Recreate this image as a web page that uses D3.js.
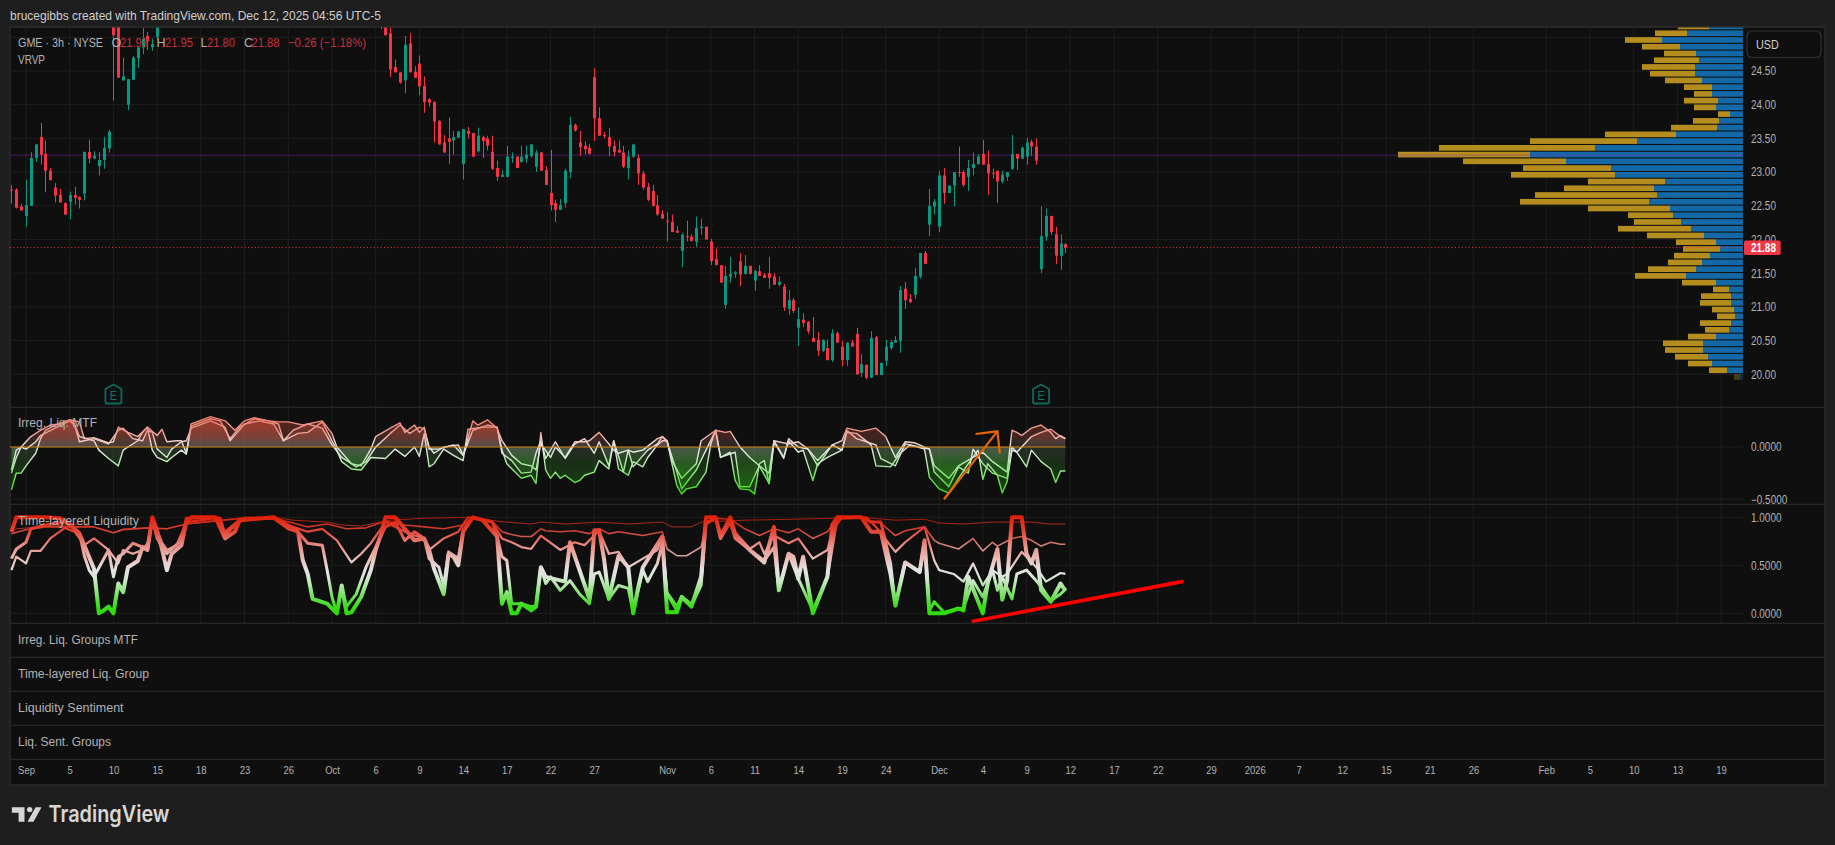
<!DOCTYPE html>
<html><head><meta charset="utf-8">
<style>html,body{margin:0;padding:0;background:#1e1e1e;overflow:hidden}svg{display:block}
text{font-family:"Liberation Sans",sans-serif}</style>
<script src="https://cdn.jsdelivr.net/npm/d3@7"></script></head><body>
<script>
// ---------- candles (bar index, 0 = Sep 2) ----------
const candleBars = d3.range(-3,28).concat(d3.range(73,215));
const candleOpen = [22.74,22.74,22.49,22.35,22.50,23.21,23.52,23.27,23.02,22.77,22.66,22.54,22.56,22.66,22.63,22.68,23.30,23.20,23.09,23.18,23.35,25.6,25.5,24.36,24.00,24.37,24.69,24.85,25.02,24.85,25.0,
25.3,25.3,25.06,24.56,24.48,24.36,24.91,24.49,24.61,24.28,24.08,24.04,23.76,23.44,23.50,23.47,23.51,23.12,23.61,23.58,23.31,23.52,23.50,23.30,23.06,22.93,22.93,23.21,23.23,23.15,23.20,
23.24,23.08,23.29,23.03,22.69,22.54,22.44,22.54,23.00,23.70,23.44,23.39,23.36,24.41,23.80,23.55,23.52,23.39,23.33,23.29,23.06,23.23,23.21,22.98,22.78,22.72,22.51,22.38,22.28,22.26,22.13,
21.83,22.05,22.04,21.97,22.17,22.19,21.97,21.71,21.62,21.03,21.45,21.49,21.68,21.49,21.61,21.39,21.53,21.48,21.50,21.45,21.33,21.30,20.97,21.10,20.69,20.81,20.78,20.54,20.51,20.35,20.39,
20.21,20.61,20.41,20.21,20.47,20.60,20.02,20.14,19.95,20.55,19.99,20.20,20.39,20.47,20.50,21.27,21.12,21.18,21.45,21.80,22.22,22.49,22.19,22.95,22.69,22.80,23.00,23.00,22.93,23.06,23.12,
23.27,23.12,22.99,23.02,22.86,22.93,23.05,23.27,23.20,23.23,23.45,23.38,21.56,22.04,22.35,22.08,21.76,21.93];
const candleHigh = [22.81,22.76,22.53,22.89,23.30,23.42,23.73,23.47,23.06,22.84,22.75,22.55,22.71,22.78,22.64,23.30,23.48,23.31,23.30,23.52,23.63,25.9,25.7,24.70,24.38,24.72,24.87,25.14,25.08,24.98,25.3,
25.4,25.4,25.2,24.67,24.48,25.02,25.06,24.57,24.73,24.42,24.10,24.05,23.77,23.55,23.81,23.61,23.61,23.64,23.67,23.58,23.66,23.54,23.54,23.54,23.17,23.03,23.39,23.29,23.23,23.39,23.39,
23.41,23.33,23.30,23.09,23.33,22.59,22.60,23.05,23.82,23.72,23.61,23.46,23.42,24.54,23.96,23.60,23.65,23.47,23.47,23.39,23.32,23.42,23.26,23.02,22.84,22.81,22.66,22.44,22.41,22.37,22.20,
22.10,22.28,22.08,22.34,22.31,22.19,22.01,21.86,21.62,21.61,21.74,21.53,21.80,21.77,21.61,21.55,21.62,21.50,21.74,21.50,21.45,21.34,21.25,21.13,20.99,20.91,20.79,20.85,20.63,20.52,20.52,
20.67,20.64,20.50,20.47,20.51,20.69,20.30,20.15,20.64,20.57,20.17,20.51,20.51,20.57,21.31,21.37,21.19,21.58,21.80,21.83,22.75,22.60,23.02,23.06,22.80,23.00,23.38,23.03,23.18,23.29,23.27,
23.48,23.32,23.05,23.02,23.02,23.00,23.55,23.27,23.38,23.51,23.48,23.50,22.49,22.46,22.35,22.19,22.08,21.95];
const candleLow = [22.53,22.46,22.43,22.19,22.50,23.15,23.11,22.70,22.88,22.55,22.55,22.36,22.30,22.52,22.46,22.58,23.13,23.20,22.95,23.05,23.29,24.06,24.40,24.36,23.92,24.37,24.54,24.75,24.81,24.80,24.95,
25.12,25.03,24.41,24.48,24.31,24.17,24.48,24.40,24.14,23.88,23.97,23.44,23.41,23.29,23.12,23.26,23.51,22.89,23.50,23.22,23.29,23.21,23.32,23.03,22.87,22.93,22.92,23.14,23.06,23.14,23.14,
23.21,23.00,23.02,22.81,22.43,22.26,22.44,22.47,22.91,23.60,23.24,23.26,23.27,23.46,23.54,23.50,23.24,23.23,23.29,23.06,22.89,23.21,22.81,22.74,22.57,22.49,22.35,22.31,21.97,22.11,22.10,
21.59,21.97,21.97,21.89,22.07,22.00,21.62,21.62,21.36,20.97,21.36,21.43,21.31,21.48,21.48,21.24,21.46,21.43,21.27,21.33,21.31,20.94,20.88,20.91,20.42,20.70,20.60,20.48,20.27,20.33,20.21,
20.18,20.47,20.12,20.12,20.41,19.99,19.96,19.93,19.95,19.99,19.99,20.12,20.36,20.47,20.32,20.97,21.06,21.12,21.42,21.64,22.05,22.37,22.11,22.53,22.69,22.49,22.93,22.78,22.72,22.95,23.11,
23.11,22.66,22.90,22.54,22.83,22.87,23.03,23.03,23.20,23.11,23.24,23.11,21.50,21.98,22.07,21.64,21.55,21.80];
const candleClose = [22.73,22.47,22.43,22.51,23.21,23.41,23.26,23.02,22.88,22.65,22.55,22.37,22.66,22.62,22.59,23.30,23.20,23.24,23.18,23.36,23.60,25.03,24.40,24.42,24.38,24.70,24.85,24.98,24.94,24.90,25.15,
25.2,25.03,24.52,24.48,24.33,24.89,24.48,24.40,24.27,24.04,24.03,23.75,23.41,23.29,23.45,23.52,23.60,23.64,23.57,23.23,23.54,23.46,23.39,23.05,22.93,22.96,23.23,23.23,23.06,23.23,23.26,
23.41,23.29,23.02,22.81,22.51,22.44,22.51,23.02,23.70,23.62,23.37,23.34,23.27,23.80,23.54,23.54,23.38,23.30,23.29,23.08,23.23,23.41,22.98,22.77,22.59,22.50,22.37,22.31,22.27,22.11,22.10,
22.07,22.04,21.98,22.17,22.19,22.00,21.68,21.62,21.36,21.46,21.49,21.51,21.48,21.61,21.49,21.53,21.46,21.43,21.43,21.33,21.37,20.99,21.10,20.94,20.82,20.76,20.64,20.48,20.35,20.51,20.21,
20.61,20.47,20.21,20.47,20.41,20.00,20.15,19.95,20.54,19.99,20.17,20.41,20.48,20.51,21.25,21.10,21.07,21.46,21.80,21.64,22.50,22.56,22.95,22.69,22.80,23.00,22.99,22.81,23.06,23.12,23.23,
23.11,22.98,22.98,22.86,22.96,23.00,23.27,23.20,23.36,23.44,23.38,23.17,22.05,22.35,22.11,21.76,21.94,21.88];

// ---------- visible range volume profile ----------
const vpPrice = [19.96,20.06,20.16,20.26,20.36,20.46,20.56,20.66,20.76,20.86,20.96,21.06,21.16,21.26,21.36,21.46,21.56,21.66,21.76,21.86,21.96,22.06,22.16,22.26,22.36,22.46,22.56,22.66,22.76,22.86,22.96,23.06,23.16,23.26,23.36,23.46,23.56,23.66,23.76,23.86,23.96,24.06,24.16,24.26,24.36,24.46,24.56,24.66,24.76,24.86,24.96,25.06,25.16];
const vpUp = [3,16,31,35,40,40,27,14,12,8,9,12,12,14,27,57,47,41,33,23,27,39,52,62,70,73,94,86,89,78,128,132,177,213,148,106,67,26,24,13,27,25,31,31,41,48,48,44,47,63,81,56,34];
const vpDown = [6,18,24,33,38,40,28,24,31,18,22,31,30,16,34,51,48,34,36,37,40,57,73,47,45,82,129,122,90,77,104,88,103,132,156,107,71,46,26,12,22,34,18,28,37,45,53,45,32,38,37,32,31];

// ---------- Irreg. Liq. MTF : [bar, value] ----------
const irregA = [[-3,-.41],[-2,-.25],[-1,-.25],[0,-.18],[2,-.06],[3,.08],[4,.16],[6,.21],[9,.26],[10,.22],[11,.10],[14,.06],[15,-.03],[17,-.11],[19,-.18],[20,-.03],[21,0],[23,.06],[24,.14],[25,.19],[26,-.03],[27,-.10],[29,-.14],[30,-.10],[32,-.03],[33,-.07],[34,.20],[38,.27],[40,.25],[42,.08],[44,.19],[47,.27],[50,.25],[52,.22],[53,.06],[56,.13],[58,.14],[61,.24],[63,.06],[64,-.03],[65,-.14],[67,-.21],[69,-.22],[71,-.10],[74,-.11],[76,-.02],[78,-.09],[80,0],[81,-.09],[82,.13],[83,-.19],[84,-.16],[86,-.02],[88,-.08],[90,-.13],[91,.17],[94,.19],[97,.19],[98,-.03],[99,-.16],[102,-.30],[104,-.27],[105,-.35],[106,.14],[107,-.22],[108,-.30],[109,-.24],[110,-.30],[111,-.27],[113,-.34],[114,-.32],[115,-.27],[117,-.24],[118,-.13],[120,-.21],[121,.06],[122,-.21],[124,-.27],[125,-.14],[127,-.19],[128,-.10],[130,.02],[131,.06],[132,.06],[133,-.16],[134,-.37],[135,-.45],[136,-.40],[138,-.38],[140,-.24],[141,.03],[142,.16],[143,-.10],[145,-.05],[146,-.32],[147,-.40],[149,-.41],[150,-.45],[151,-.16],[152,-.13],[153,-.35],[154,.06],[156,-.10],[157,.06],[159,-.05],[160,-.03],[162,-.32],[163,-.16],[165,-.10],[168,-.03],[169,.14],[171,.13],[174,.02],[175,-.18],[178,-.19],[180,-.06],[182,.02],[185,-.02],[186,-.29],[188,-.40],[190,-.44],[192,-.30],[194,-.16],[196,-.03],[197,-.31],[198,-.16],[200,-.27],[201,-.44],[202,-.33],[203,-.03],[204,-.05],[206,-.19],[207,-.03],[209,-.14],[211,-.21],[212,-.34],[213,-.23],[214,-.23]];
const irregB = [[-3,-.25],[-2,-.10],[-1,0],[0,-.02],[2,.05],[3,.11],[6,.18],[9,.25],[10,.21],[11,.05],[14,.08],[17,.03],[19,.16],[20,.18],[22,.08],[24,.06],[25,.16],[26,.14],[27,-.02],[29,-.10],[30,-.02],[32,.05],[33,.06],[34,.18],[38,.25],[41,.19],[42,.06],[45,.22],[48,.25],[51,.22],[53,.06],[55,.16],[58,.22],[61,.18],[63,.02],[65,-.10],[68,-.19],[70,-.14],[72,0],[75,.13],[77,.21],[79,.13],[81,.19],[82,.17],[83,0],[84,-.06],[86,0],[89,.02],[90,-.08],[92,.16],[95,.21],[97,.19],[98,-.06],[100,-.13],[102,-.25],[104,-.24],[105,-.06],[106,.06],[107,-.11],[109,.05],[111,-.11],[113,.03],[115,.08],[117,-.06],[118,.05],[120,-.18],[121,.06],[123,-.24],[124,-.03],[125,-.19],[128,-.03],[130,.03],[131,.10],[132,.05],[134,-.24],[135,-.40],[138,-.22],[140,-.03],[142,.16],[143,-.10],[146,-.05],[147,-.38],[149,-.38],[151,-.18],[153,-.35],[154,.05],[156,-.11],[157,.08],[159,0],[161,-.02],[163,-.18],[166,.02],[168,-.03],[169,.16],[171,.08],[175,.02],[176,-.11],[179,-.18],[181,.03],[186,-.02],[187,-.24],[190,-.38],[192,-.19],[194,-.25],[195,-.02],[197,-.16],[199,-.25],[202,-.30],[203,0],[204,-.05],[207,.10],[209,.14],[211,.17],[213,.10],[214,.08]];
const irregC = [[-3,-.22],[-2,-.03],[-1,0],[1,.10],[3,.16],[5,.21],[7,.22],[9,.26],[11,.24],[12,.08],[14,.09],[17,.04],[18,.05],[19,.19],[21,.14],[23,.10],[25,.19],[27,.11],[28,.17],[29,.05],[31,.06],[32,.06],[33,-.06],[34,.22],[38,.29],[41,.25],[43,.16],[45,.25],[47,.28],[50,.25],[52,.24],[54,.24],[57,.21],[61,.25],[63,.13],[64,0],[67,-.16],[69,-.18],[71,-.02],[72,.10],[75,.18],[77,.23],[78,.14],[80,.21],[81,.14],[82,.19],[83,-.02],[85,-.02],[88,.02],[90,-.08],[92,.25],[93,.21],[95,.26],[97,.18],[98,.06],[100,-.08],[102,-.16],[104,-.18],[105,-.22],[106,.03],[108,-.10],[109,0],[111,-.10],[113,.05],[115,.05],[116,.06],[118,.14],[120,.03],[121,-.03],[122,-.06],[124,-.03],[125,-.05],[127,-.03],[130,.08],[131,.10],[132,.06],[133,-.13],[135,-.30],[138,-.16],[139,.06],[142,.16],[144,.14],[145,.15],[147,0],[149,-.10],[151,-.18],[153,-.25],[154,.06],[157,.03],[159,.05],[161,-.02],[163,-.13],[166,.02],[168,.06],[169,.18],[172,.15],[175,.18],[177,.10],[179,-.10],[181,.05],[183,.04],[186,-.02],[187,-.18],[190,-.30],[192,-.18],[195,-.10],[197,-.05],[199,-.14],[202,-.24],[203,.16],[204,.14],[205,.11],[207,.18],[209,.21],[211,.14],[212,.08],[213,.11],[214,.08]];

// ---------- Time-layered Liquidity : [bar, value] ----------
const layer1 = [[-3,.85],[-2,.88],[3,.90],[11,.93],[14,.90],[18,.84],[20,.88],[25,.89],[29,.88],[33,.93],[38,.95],[45,1.0],[51,1.0],[55,.97],[62,.95],[65,.92],[69,.91],[75,.97],[82,.99],[92,1.0],[97,.96],[99,.95],[104,.93],[106,.95],[111,.93],[118,.95],[124,.93],[131,.95],[133,.90],[137,.90],[139,.95],[148,.97],[158,.98],[166,.99],[172,1.0],[179,.97],[185,.98],[188,.94],[193,.93],[199,.95],[207,.95],[211,.93],[214,.93]];
const layer2 = [[-3,.83],[0,.87],[4,.9],[8,.9],[11,.9],[14,.9],[18,.84],[20,.87],[25,.89],[29,.88],[33,.93],[38,.96],[45,.99],[51,.99],[55,.94],[58,.9],[62,.93],[66,.88],[70,.89],[74,.96],[78,.92],[82,.9],[86,.88],[90,.92],[92,1.0],[96,.96],[98,.85],[100,.82],[102,.8],[104,.8],[106,.88],[107,.86],[110,.85],[113,.86],[116,.83],[118,.88],[120,.83],[122,.85],[127,.81],[131,.85],[132,.67],[134,.6],[136,.6],[139,.69],[140,.93],[142,.99],[145,.98],[148,.88],[151,.81],[154,.88],[157,.84],[159,.88],[162,.78],[165,.85],[167,.99],[172,1.0],[174,.96],[176,.94],[179,.81],[181,.86],[185,.9],[187,.76],[188,.73],[192,.67],[195,.78],[197,.65],[199,.74],[200,.7],[203,.78],[205,.8],[207,.76],[209,.7],[211,.74],[213,.72],[214,.72]];
const layer3 = [[-3,.45],[-2,.59],[0,.52],[1,.65],[3,.65],[5,.78],[8,.89],[10,.85],[12,.71],[14,.78],[17,.66],[19,.52],[20,.66],[22,.62],[24,.66],[25,.73],[26,.99],[28,.74],[29,.66],[31,.71],[33,.95],[39,.99],[41,.85],[44,.98],[51,.99],[55,.9],[58,.85],[61,.88],[64,.76],[67,.53],[69,.62],[71,.73],[74,.95],[78,.85],[80,.81],[82,.78],[83,.66],[86,.78],[89,.85],[91,1.0],[96,.95],[98,.78],[100,.74],[102,.69],[104,.67],[106,.81],[110,.66],[113,.74],[115,.71],[118,.86],[120,.62],[122,.64],[124,.48],[127,.57],[130,.66],[131,.8],[132,.22],[134,.08],[135,.18],[137,.1],[139,.32],[140,.95],[142,.99],[143,.78],[145,.97],[146,.78],[149,.67],[151,.74],[152,.62],[154,.81],[157,.73],[159,.78],[162,.57],[165,.66],[166,.86],[168,1.0],[173,1.0],[175,.9],[179,.64],[181,.74],[185,.9],[187,.55],[188,.45],[191,.41],[193,.33],[195,.52],[197,.29],[199,.45],[201,.38],[202,.41],[205,.64],[208,.48],[210,.33],[213,.42],[214,.41]];
const layer4 = [[-3,.57],[-2,.67],[0,.74],[1,.88],[4,.92],[8,.95],[11,.84],[12,.60],[13,.45],[14,.38],[17,.66],[18,.38],[19,.59],[20,.62],[22,.73],[24,.69],[25,.67],[26,.97],[27,.78],[29,.62],[30,.67],[32,.76],[33,.99],[38,1.0],[40,.99],[41,.81],[43,.92],[45,.99],[51,.99],[54,.88],[56,.85],[58,.73],[61,.71],[62,.45],[63,.17],[64,0],[65,.27],[66,.07],[68,.2],[70,.48],[72,.69],[74,.9],[76,.95],[78,.76],[80,.85],[82,.78],[83,.57],[85,.48],[86,.29],[87,.64],[89,.57],[90,.87],[92,1.0],[96,.95],[97,.8],[98,.59],[99,.55],[100,.1],[102,.1],[104,.07],[105,.07],[106,.48],[107,.31],[108,.38],[110,.24],[112,.34],[114,.2],[116,.1],[117,.41],[118,.43],[120,.15],[122,.29],[124,.26],[125,.01],[127,.45],[128,.33],[130,.52],[131,.73],[132,.2],[134,.03],[135,.17],[137,.08],[139,.29],[140,.93],[142,1.0],[143,.78],[145,.95],[146,.78],[149,.66],[152,.55],[154,.69],[155,.24],[157,.62],[159,.36],[162,.03],[165,.38],[166,.69],[167,.99],[172,1.0],[174,.95],[176,.95],[177,.74],[178,.52],[179,.08],[181,.53],[184,.43],[185,.76],[186,.03],[187,.12],[189,.01],[192,.05],[193,.05],[195,.34],[197,.17],[199,.45],[200,.24],[201,.38],[203,.15],[204,.41],[206,.45],[208,.34],[209,.28],[211,.13],[213,.2],[214,.25]];
const layer5 = [[-3,.85],[-2,1.0],[4,1.0],[7,.99],[9,.93],[11,.83],[14,.465],[15,0],[16,.03],[17,.07],[18,0],[19,.31],[20,.22],[21,.48],[23,.545],[24,.69],[25,.66],[26,1.0],[27,.86],[28,.67],[29,.45],[30,.62],[32,.71],[33,.95],[34,1.0],[39,1.0],[41,.78],[43,.85],[44,.97],[51,1.0],[56,.85],[57,.55],[58,.41],[59,.15],[62,.10],[64,0],[65,.29],[66,0],[67,.01],[69,.17],[71,.45],[72,.66],[73,.81],[74,1.0],[76,1.0],[80,.76],[82,.78],[83,.66],[84,.465],[86,.2],[87,.62],[88,.59],[89,.5],[90,.85],[92,1.0],[94,.97],[97,.8],[98,.1],[99,.22],[100,0],[101,0],[102,.1],[104,.03],[105,.07],[106,.48],[107,.38],[111,.33],[112,.74],[116,.15],[117,.865],[118,.865],[119,.57],[120,.15],[122,.6],[124,.48],[125,0],[126,.26],[127,.48],[131,.8],[132,.01],[134,.01],[135,.17],[137,.07],[139,.38],[140,1.0],[142,1.0],[143,.8],[145,1.0],[146,.83],[149,.66],[152,.53],[154,.9],[155,.24],[157,.62],[158,.59],[159,.36],[160,.59],[162,0],[165,.38],[166,.92],[167,1.0],[172,1.0],[174,.85],[176,.85],[178,.41],[179,.08],[181,.53],[184,.43],[185,.76],[186,0],[189,0],[192,.05],[193,.03],[194,.38],[197,0],[198,.31],[200,.67],[201,.14],[202,.34],[203,1.0],[205,1.0],[206,.62],[207,.52],[208,.66],[209,.24],[211,.12],[213,.31],[214,.235]];

// ---------- labels ----------
const priceTicks = [20,20.5,21,21.5,22,22.5,23,23.5,24,24.5,25];
const priceLabelTicks = [20,20.5,21,21.5,22,22.5,23,23.5,24,24.5];
const irregTicks = [-0.5,0];
const layerTicks = [0,0.5,1];
const timeBars = [0,9,18,27,36,45,54,63,72,81,90,99,108,117,132,141,150,159,168,177,188,197,206,215,224,233,244,253,262,271,280,289,298,313,322,331,340,349];
const timeLabels = ["Sep","5","10","15","18","23","26","Oct","6","9","14","17","22","27","Nov","6","11","14","19","24","Dec","4","9","12","17","22","29","2026","7","12","15","21","26","Feb","5","10","13","19"];
const earningsBars = [18,209];
const paneTitles = ["Irreg. Liq. Groups MTF","Time-layered Liq. Group","Liquidity Sentiment","Liq. Sent. Groups"];
const paneTitleWidths = [120,131,105.6,93];
const lastPrice = 21.88, pocPrice = 23.25;
const arrowPts = [[189,-.5],[200,.15]], arrowHead = [[195.5,.124],[200,.15],[200.5,-.06]];
const trendPts = [[195,-.083],[238,.33]];

// ---------- layout ----------
const W=1835,H=845,L=10,R=1825,PR=1743,T=27,B=785;
const paneBg="#0f0f0f",grid="#1e1e1e",sep="#2e2e2e",txt="#b2b2b2",UP="#089981",DN="#f73346";
const svg=d3.select("body").append("svg").attr("width",W).attr("height",H);
svg.append("rect").attr("width",W).attr("height",H).attr("fill","#1e1e1e");
svg.append("rect").attr("x",L).attr("y",T).attr("width",R-L).attr("height",B-T).attr("fill",paneBg).attr("stroke","#2a2a2a").attr("stroke-width",1.5);
const defs=svg.append("defs");
const clip=(id,y0,y1,x1=PR)=>defs.append("clipPath").attr("id",id).append("rect").attr("x",L).attr("y",y0).attr("width",x1-L).attr("height",y1-y0);
clip("cMain",T,407.3);clip("cI1",407.3,504.3);clip("cI2",504.3,623.3);

const x=d3.scaleLinear().domain([0,349]).range([26,26+349*4.857]);
const yP=d3.scaleLinear().domain([20,25]).range([374.3,37.3]);
const yI=d3.scaleLinear().domain([-.5,0]).range([499.3,447]);
const yT=d3.scaleLinear().domain([0,1]).range([613.3,517.3]);
const vol=d3.scaleLinear().domain([0,345]).range([PR,PR-345]);

// grid
const g=svg.append("g");
timeBars.forEach(b=>g.append("line").attr("x1",x(b)).attr("x2",x(b)).attr("y1",T).attr("y2",623.3).attr("stroke",grid));
const hg=(sc,vals)=>vals.forEach(v=>g.append("line").attr("x1",L).attr("x2",PR).attr("y1",sc(v)).attr("y2",sc(v)).attr("stroke",grid));
hg(yP,priceTicks);hg(yI,irregTicks);hg(yT,layerTicks);

// volume profile
const vpG=svg.append("g").attr("clip-path","url(#cMain)");
const rowH=Math.abs(yP(0.084)-yP(0));
vpPrice.forEach((p,k)=>{
  const op=p<20?.35:1;
  vpG.append("rect").attr("x",vol(vpUp[k])).attr("width",PR-vol(vpUp[k])).attr("y",yP(p)-rowH/2).attr("height",rowH).attr("fill","#1468a6").attr("opacity",op);
  vpG.append("rect").attr("x",vol(vpUp[k]+vpDown[k])).attr("width",vol(vpUp[k])-vol(vpUp[k]+vpDown[k])).attr("y",yP(p)-rowH/2).attr("height",rowH).attr("fill","#b58d1f").attr("opacity",op);
});
// POC
vpG.append("line").attr("x1",L).attr("x2",PR).attr("y1",yP(pocPrice)).attr("y2",yP(pocPrice)).attr("stroke","rgb(140,40,180)").attr("stroke-opacity",.25).attr("stroke-width",2);

// candles
const cG=svg.append("g").attr("clip-path","url(#cMain)");
candleBars.forEach((b,k)=>{
  const o=candleOpen[k],c=candleClose[k],col=c>=o?UP:DN,cx=Math.round(x(b))+.5;
  cG.append("line").attr("x1",cx).attr("x2",cx).attr("y1",yP(candleHigh[k])).attr("y2",yP(candleLow[k])).attr("stroke",col).attr("stroke-width",1);
  cG.append("rect").attr("x",cx-1.5).attr("width",3).attr("y",yP(Math.max(o,c))).attr("height",Math.max(1,Math.abs(yP(o)-yP(c)))).attr("fill",col);
});
// last price line
svg.append("line").attr("x1",L).attr("x2",PR).attr("y1",yP(lastPrice)).attr("y2",yP(lastPrice)).attr("stroke","#f23645").attr("stroke-dasharray","1 2.4").attr("stroke-width",1);

// earnings markers
earningsBars.forEach(b=>{
  const eg=svg.append("g").attr("transform",`translate(${x(b)},394.5)`);
  eg.append("path").attr("d","M-8,-5.5 L0,-10 L8,-5.5 L8,7 Q8,9 6,9 L-6,9 Q-8,9 -8,7 Z").attr("fill","none").attr("stroke","#0c6a5c").attr("stroke-width",1.8);
  eg.append("text").attr("text-anchor","middle").attr("y",5).attr("font-size",13).attr("fill","#0c7a68").attr("class","sq").text("E");
});

// indicator gradients
const stops=(id,sc,list)=>{const gr=defs.append("linearGradient").attr("id",id).attr("gradientUnits","userSpaceOnUse").attr("x1",0).attr("x2",0).attr("y1",sc(list[0][0])).attr("y2",sc(list[list.length-1][0]));
  const a=list[0][0],z=list[list.length-1][0];
  list.forEach(s=>gr.append("stop").attr("offset",(s[0]-a)/(z-a)).attr("stop-color",s[1]).attr("stop-opacity",s[2]===undefined?1:s[2]));};
stops("gI",yI,[[.3,"#ec7b6e"],[.15,"#ee9c92"],[.05,"#eed2cc"],[-.02,"#e6e6e4"],[-.1,"#cdeac8"],[-.22,"#9ce892"],[-.35,"#62e044"],[-.48,"#35dc12"]]);
stops("gIf",yI,[[.3,"#e0452f",.36],[.1,"#c9604f",.26],[.005,"#b0a09a",.16],[-.005,"#a0c098",.16],[-.15,"#3ea030",.22],[-.45,"#28b00c",.32]]);
stops("gT",yT,[[1,"#e0200a"],[.85,"#e4483a"],[.7,"#e8918a"],[.55,"#e8c4be"],[.45,"#e3e3e3"],[.35,"#cfe8ca"],[.2,"#80e06c"],[.08,"#3fdc20"],[0,"#2edc0e"]]);

const lineXY=sc=>d3.line().x(d=>x(d[0])).y(d=>sc(d[1])).curve(d3.curveLinear);
const i1=svg.append("g").attr("clip-path","url(#cI1)");
const areaI=d3.area().x(d=>x(d[0])).y0(yI(0)).y1(d=>yI(d[1]));
[irregA,irregB,irregC].forEach(s=>i1.append("path").attr("d",areaI(s)).attr("fill","url(#gIf)"));
[irregA,irregB,irregC].forEach(s=>i1.append("path").attr("d",lineXY(yI)(s)).attr("fill","none").attr("stroke","url(#gI)").attr("stroke-width",1.4).attr("stroke-linejoin","round"));
i1.append("line").attr("x1",L).attr("x2",x(214)).attr("y1",yI(0)).attr("y2",yI(0)).attr("stroke","#d0820c").attr("stroke-width",1.2);
// orange arrow drawing
i1.append("path").attr("d",lineXY(yI)(arrowPts)).attr("fill","none").attr("stroke","#e8640a").attr("stroke-width",2.2);
i1.append("path").attr("d",lineXY(yI)(arrowHead)).attr("fill","none").attr("stroke","#e8640a").attr("stroke-width",2.2);

const i2=svg.append("g").attr("clip-path","url(#cI2)");
[[layer1,1,.72],[layer2,1.6,.9],[layer3,2.2,1],[layer4,3,1],[layer5,4,1]].forEach(([s,w,o])=>
  i2.append("path").attr("d",lineXY(yT)(s)).attr("fill","none").attr("stroke","url(#gT)").attr("stroke-width",w).attr("stroke-opacity",o).attr("stroke-linejoin","round"));
i2.append("path").attr("d",lineXY(yT)(trendPts)).attr("fill","none").attr("stroke","#ff0000").attr("stroke-width",3.6).attr("stroke-linecap","round");

// pane separators
[407.3,504.3,623.3,657.3,691.3,725.3,759.3].forEach(y=>svg.append("line").attr("x1",L).attr("x2",R).attr("y1",y).attr("y2",y).attr("stroke",sep).attr("stroke-width",1));
svg.append("rect").attr("x",L).attr("y",T-1).attr("width",R-L).attr("height",1.5).attr("fill","#2a2a2a");

// axes
const styleAxis=(sel,size)=>{sel.select(".domain").remove();sel.selectAll(".tick line").remove();sel.selectAll("text").attr("fill",txt).attr("font-size",size).attr("font-family",null).attr("class","sq");};
svg.append("g").attr("transform","translate(1751,0)").call(d3.axisRight(yP).tickValues(priceLabelTicks).tickFormat(d3.format(".2f")).tickSize(0).tickPadding(0)).call(styleAxis,12);
svg.append("g").attr("transform","translate(1751,0)").call(d3.axisRight(yI).tickValues(irregTicks).tickFormat(d3.format(".4f")).tickSize(0).tickPadding(0)).call(styleAxis,12);
svg.append("g").attr("transform","translate(1751,0)").call(d3.axisRight(yT).tickValues(layerTicks).tickFormat(d3.format(".4f")).tickSize(0).tickPadding(0)).call(styleAxis,12);
svg.append("g").attr("transform","translate(0,766)").call(d3.axisBottom(x).tickValues(timeBars).tickFormat((d,i)=>timeLabels[i]).tickSize(0).tickPadding(0)).call(styleAxis,11.4);

// price tag
svg.append("rect").attr("x",1744).attr("y",yP(lastPrice)-7).attr("width",36.7).attr("height",14.4).attr("rx",2).attr("fill","#f23645");
svg.append("text").attr("x",1751).attr("y",yP(lastPrice)+4.4).attr("font-size",12).attr("font-weight",700).attr("fill","#fff").attr("class","sq").text(d3.format(".2f")(lastPrice));
// USD badge
svg.append("rect").attr("x",1747).attr("y",31).attr("width",74).attr("height",26.5).attr("rx",5).attr("fill",paneBg).attr("stroke","#333").attr("stroke-width",1.2);
svg.append("text").attr("x",1756).attr("y",48.8).attr("font-size",13).attr("fill","#cfcfcf").attr("class","sq").text("USD");

// texts; w = width, squeezed to fit
const T_=(x0,y,s,o={})=>{const t=svg.append("text").attr("x",x0).attr("y",y).attr("font-size",o.size||12.6).attr("fill",o.fill||txt).attr("font-weight",o.weight||400).text(s);
  if(o.w)t.attr("textLength",o.w).attr("lengthAdjust","spacingAndGlyphs");return t;};
T_(10,19.5,"brucegibbs created with TradingView.com, Dec 12, 2025 04:56 UTC-5",{fill:"#cfcfcf",size:13,w:371});
const RD="#c9303e";
T_(18,46.5,"GME · 3h · NYSE",{w:85});
T_(111.5,46.5,"O");T_(120,46.5,"21.93",{fill:RD,w:28});
T_(156.5,46.5,"H");T_(165,46.5,"21.95",{fill:RD,w:28});
T_(200.5,46.5,"L");T_(207,46.5,"21.80",{fill:RD,w:28});
T_(244,46.5,"C");T_(251.5,46.5,"21.88",{fill:RD,w:28});
T_(288,46.5,"−0.26 (−1.18%)",{fill:RD,w:78});
T_(18,63.5,"VRVP",{w:27});
T_(18,427,"Irreg. Liq. MTF",{w:79});
T_(18,524.5,"Time-layered Liquidity",{w:121});
[643.5,677.5,711.5,745.5].forEach((y,i)=>T_(18,y,paneTitles[i],{w:paneTitleWidths[i]}));

// TradingView logo
svg.append("path").attr("d","M11.9,807.3H24.5V821.7H18.6V812.7H11.9Z").attr("fill","#d6d6d6");
svg.append("circle").attr("cx",29.7).attr("cy",809.6).attr("r",2.7).attr("fill","#d6d6d6");
svg.append("path").attr("d","M35.6,807.3H41.5L33.5,821.7H27.5Z").attr("fill","#d6d6d6");
svg.append("text").attr("x",48.5).attr("y",822).attr("font-size",23).attr("font-weight",600).attr("fill","#d6d6d6").style("font-family","Inter,Roboto,sans-serif").attr("textLength",121).attr("lengthAdjust","spacingAndGlyphs").text("TradingView");

// narrow the axis numerals the way the reference shows them
svg.selectAll("text.sq").each(function(){const n=this.getComputedTextLength();this.setAttribute("textLength",n*.83);this.setAttribute("lengthAdjust","spacingAndGlyphs");});
</script></body></html>
